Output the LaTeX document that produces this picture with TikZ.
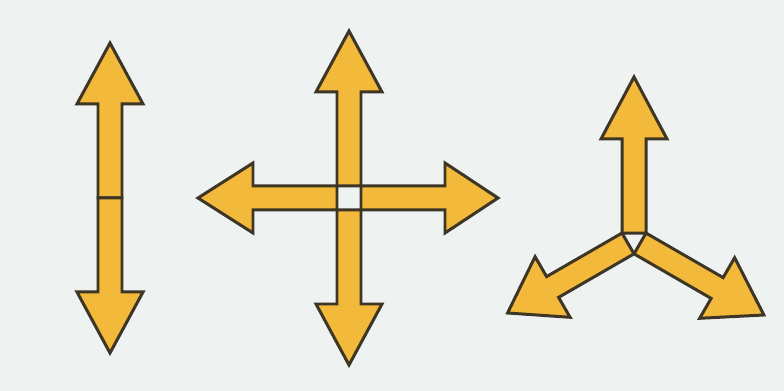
\documentclass[tikz,border=0pt]{standalone}
\usepackage{tikz}

\definecolor{armfill}{HTML}{F2B93A}
\definecolor{armline}{HTML}{3D3526}
\definecolor{paper}{HTML}{EEF2F1}

\begin{document}
\begin{tikzpicture}[x=0.02cm,y=0.02cm,
    arm/.style={fill=armfill,draw=armline,line width=1.7pt,line join=miter}]
  % paper, fixes the page size
  \fill[paper] (0,0) rectangle (784,391);
  \useasboundingbox (0,0) rectangle (784,391);
  % arm: start r, length L, head h, head half width hw, shaft half width 12
  % double arrow, joined at its middle
  \begin{scope}[shift={(110,193)}]
    \foreach \ang/\len/\hd/\hw in {90/155/61/33, 270/155/61/33}
      \draw[arm,rotate=\ang] (0,-12) -- (\len-\hd,-12) -- (\len-\hd,-\hw)
        -- (\len,0) -- (\len-\hd,\hw) -- (\len-\hd,12) -- (0,12) -- cycle;
  \end{scope}
  % cross, with an empty square in the middle
  \begin{scope}[shift={(349,193)}]
    \foreach \ang/\len/\hd/\hw in {90/167/61/33, 270/167/61/33,
                                   180/151/55/35, 0/149/53/35}
      \draw[arm,rotate=\ang] (12,-12) -- (\len-\hd,-12) -- (\len-\hd,-\hw)
        -- (\len,0) -- (\len-\hd,\hw) -- (\len-\hd,12) -- (12,12) -- cycle;
  \end{scope}
  % three arms, with an empty triangle in the middle
  \begin{scope}[shift={(634,151)}]
    \foreach \ang/\len/\hd/\hw in {90/163/62/33, 210/146/52/35, 330/150/54/35}
      \draw[arm,rotate=\ang] (6.93,-12) -- (\len-\hd,-12) -- (\len-\hd,-\hw)
        -- (\len,0) -- (\len-\hd,\hw) -- (\len-\hd,12) -- (6.93,12) -- cycle;
  \end{scope}
\end{tikzpicture}
\end{document}
